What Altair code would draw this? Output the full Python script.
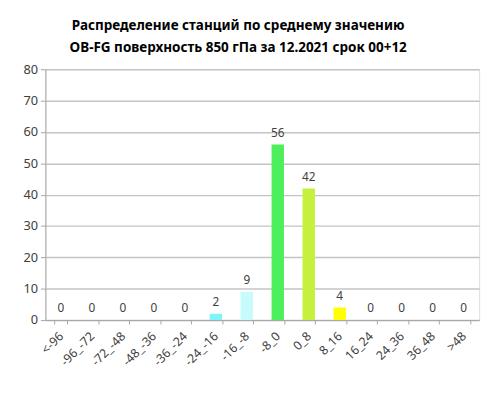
import altair as alt
import pandas as pd

categories = ["<-96", "-96_-72", "-72_-48", "-48_-36", "-36_-24", "-24_-16", "-16_-8",
              "-8_0", "0_8", "8_16", "16_24", "24_36", "36_48", ">48"]
counts = [0, 0, 0, 0, 0, 2, 9, 56, 42, 4, 0, 0, 0, 0]
bar_colors = ["#7ff5f9", "#7ff5f9", "#7ff5f9", "#7ff5f9", "#7ff5f9", "#7ff5f9", "#c8fbfb",
              "#4def5a", "#c6f03e", "#ffff00", "#ffff00", "#ffff00", "#ffff00", "#ffff00"]
title_lines = ["Распределение станций по среднему значению",
               "OB-FG поверхность  850 гПа за 12.2021 срок  00+12"]
y_ticks = [0, 10, 20, 30, 40, 50, 60, 70, 80]

FONT = "Noto Sans"
TXT = "#404040"

df = pd.DataFrame({"cat": categories, "n": counts})

x_enc = alt.X("cat:N", sort=categories,
              scale=alt.Scale(paddingInner=0.6, paddingOuter=0.3),
              axis=alt.Axis(title=None, labelAngle=-45, labelAlign="right",
                            labelBaseline="middle", labelFont=FONT, labelFontSize=12.5,
                            labelColor=TXT, labelPadding=10, tickBand="extent",
                            tickSize=4, tickColor="#a6a6a6", domainColor="#a6a6a6",
                            domainWidth=1, grid=False, labelOverlap=False))
y_enc = alt.Y("n:Q", scale=alt.Scale(domain=[0, 80], nice=False),
              axis=alt.Axis(title=None, values=y_ticks, labelFont=FONT, labelFontSize=13,
                            labelColor=TXT, tickSize=5, labelPadding=3, labelOverlap=False,
                            tickColor="#a6a6a6", domainColor="#a6a6a6",
                            gridColor="#c4c4c4", gridWidth=1.5))

bars = alt.Chart(df).mark_bar().encode(
    x=x_enc, y=y_enc,
    color=alt.Color("cat:N", scale=alt.Scale(domain=categories, range=bar_colors), legend=None),
)
labels = alt.Chart(df).mark_text(font=FONT, fontSize=12, color=TXT, baseline="alphabetic",
                                 dy=-8).encode(
    x=x_enc, y=y_enc, text="n:Q")

def title_line(txt, ypos):
    return alt.Chart(pd.DataFrame({"t": [txt]})).mark_text(
        font=FONT, fontSize=13.7, fontWeight="bold", color="#000000",
        align="center", baseline="alphabetic").encode(
        x=alt.value(196), y=alt.value(ypos), text="t:N")

t1 = title_line(title_lines[0], -40)
t2 = title_line(title_lines[1], -18)

chart = alt.layer(bars, labels, t1, t2).properties(
    width=441, height=255,
    autosize=alt.AutoSizeParams(type="none"),
    padding={"left": 38, "top": 59, "right": 9, "bottom": 77},
).configure_view(stroke=None).configure(background="#ffffff")

chart.save("out.html", embed_options={"renderer": "svg", "actions": False})
